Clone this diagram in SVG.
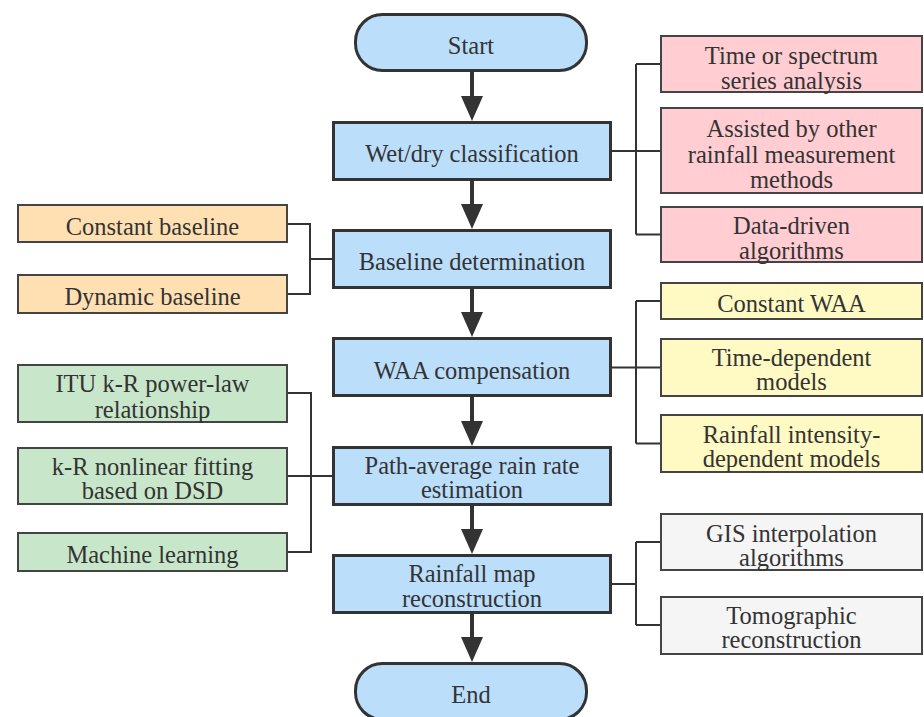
<svg xmlns="http://www.w3.org/2000/svg" width="924" height="717" viewBox="0 0 924 717">
<style>
text{font-family:"Liberation Serif","Times New Roman",serif;font-size:24.5px;fill:#333;text-anchor:middle}
.main{fill:#bbdefb;stroke:#333;stroke-width:3}
.side{stroke:#444;stroke-width:2}
.or{fill:#ffe0b2}.pk{fill:#ffcdd2}.yl{fill:#fff9c4}.gr{fill:#c8e6c9}.gy{fill:#f5f5f5}
.br{fill:none;stroke:#333;stroke-width:2}
.ar{stroke:#333;stroke-width:4}
.ah{fill:#333}
</style>
<rect width="924" height="717" fill="#fff"/>
<g id="connectors">
<line class="ar" x1="472" y1="72" x2="472" y2="100"/><polygon class="ah" points="461,96 483,96 472,121"/>
<line class="ar" x1="472" y1="181" x2="472" y2="208"/><polygon class="ah" points="461,204 483,204 472,229"/>
<line class="ar" x1="472" y1="289" x2="472" y2="316"/><polygon class="ah" points="461,312 483,312 472,337"/>
<line class="ar" x1="472" y1="397" x2="472" y2="425"/><polygon class="ah" points="461,421 483,421 472,446"/>
<line class="ar" x1="472" y1="506" x2="472" y2="533"/><polygon class="ah" points="461,529 483,529 472,554"/>
<line class="ar" x1="472" y1="614" x2="472" y2="641"/><polygon class="ah" points="461,637 483,637 472,662"/>
<path class="br" d="M612,151H660M636,64V234.5M636,64H660M636,234.5H660"/>
<path class="br" d="M288,224H310V294H288M310,259H333"/>
<path class="br" d="M612,367.5H660M636,301V443.5M636,301H660M636,443.5H660"/>
<path class="br" d="M288,393H311V552H288M288,476H333"/>
<path class="br" d="M612,584H636M636,542V625M636,542H660M636,625H660"/>
</g>
<g id="start"><rect class="main" x="355.5" y="14.5" width="231" height="56" rx="27"/><text x="471" y="54">Start</text></g>
<g id="wetdry"><rect class="main" x="333.5" y="122.5" width="277" height="57"/><text x="472" y="162">Wet/dry classification</text></g>
<g id="baseline"><rect class="main" x="333.5" y="230.5" width="277" height="57"/><text x="472" y="270">Baseline determination</text></g>
<g id="waa"><rect class="main" x="333.5" y="338.5" width="277" height="57"/><text x="472" y="379">WAA compensation</text></g>
<g id="pathavg"><rect class="main" x="333.5" y="447.5" width="277" height="57"/><text x="472" y="474">Path-average rain rate</text><text x="472" y="498">estimation</text></g>
<g id="rainmap"><rect class="main" x="333.5" y="555.5" width="277" height="57"/><text x="472" y="582">Rainfall map</text><text x="472" y="607">reconstruction</text></g>
<g id="end"><rect class="main" x="355.5" y="663.5" width="231" height="56" rx="27"/><text x="471" y="703">End</text></g>
<g id="constbase"><rect class="side or" x="18" y="205" width="269" height="37"/><text x="152.5" y="235">Constant baseline</text></g>
<g id="dynbase"><rect class="side or" x="18" y="275" width="269" height="38"/><text x="152.5" y="305">Dynamic baseline</text></g>
<g id="itu"><rect class="side gr" x="18" y="365" width="269" height="57"/><text x="152.5" y="392">ITU k-R power-law</text><text x="152.5" y="418">relationship</text></g>
<g id="krfit"><rect class="side gr" x="18" y="448" width="269" height="56"/><text x="152.5" y="475">k-R nonlinear fitting</text><text x="152.5" y="499">based on DSD</text></g>
<g id="ml"><rect class="side gr" x="18" y="533" width="269" height="38"/><text x="152.5" y="563">Machine learning</text></g>
<g id="timespec"><rect class="side pk" x="661" y="36" width="261" height="56"/><text x="791.5" y="64">Time or spectrum</text><text x="791.5" y="89">series analysis</text></g>
<g id="assisted"><rect class="side pk" x="661" y="108" width="261" height="85"/><text x="791.5" y="137">Assisted by other</text><text x="791.5" y="163">rainfall measurement</text><text x="791.5" y="188">methods</text></g>
<g id="datadriven"><rect class="side pk" x="661" y="207" width="261" height="55"/><text x="791.5" y="234">Data-driven</text><text x="791.5" y="259">algorithms</text></g>
<g id="constwaa"><rect class="side yl" x="661" y="283" width="261" height="36"/><text x="791.5" y="312">Constant WAA</text></g>
<g id="timedep"><rect class="side yl" x="661" y="339" width="261" height="57"/><text x="791.5" y="366">Time-dependent</text><text x="791.5" y="390">models</text></g>
<g id="raindep"><rect class="side yl" x="661" y="415" width="261" height="57"/><text x="791.5" y="443">Rainfall intensity-</text><text x="791.5" y="467">dependent models</text></g>
<g id="gis"><rect class="side gy" x="661" y="514" width="261" height="56"/><text x="791.5" y="542">GIS interpolation</text><text x="791.5" y="566">algorithms</text></g>
<g id="tomo"><rect class="side gy" x="661" y="597" width="261" height="57"/><text x="791.5" y="624">Tomographic</text><text x="791.5" y="648">reconstruction</text></g>
</svg>
